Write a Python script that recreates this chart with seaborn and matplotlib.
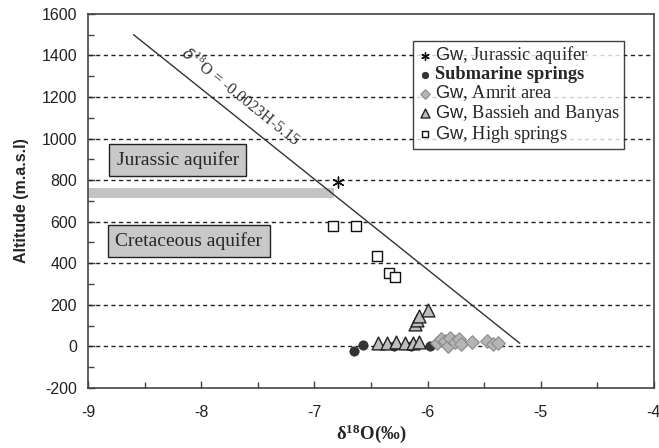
import numpy as np
import pandas as pd
import matplotlib
matplotlib.use("Agg")
import matplotlib.pyplot as plt
import seaborn as sns

# --- data -------------------------------------------------------------
jurassic_d18o = [-6.79]
jurassic_alt = [790]

submarine_d18o = [-6.65, -6.57, -6.30, -6.15, -5.98]
submarine_alt = [-22, 8, 2, 0, 2]

amrit_d18o = [-5.92, -5.88, -5.85, -5.82, -5.80, -5.76, -5.72, -5.70, -5.61, -5.47, -5.42, -5.38]
amrit_alt = [15, 35, 28, 0, 40, 22, 38, 12, 20, 28, 12, 14]

bassieh_d18o = [-6.44, -6.36, -6.28, -6.20, -6.13, -6.08, -6.11, -6.09, -6.08, -6.00]
bassieh_alt = [16, 18, 22, 16, 14, 20, 109, 128, 144, 176]

high_d18o = [-6.84, -6.63, -6.45, -6.34, -6.29]
high_alt = [580, 580, 435, 355, 335]

# local meteoric altitude line: d18O = -0.0023 H - 5.15
line_slope, line_icpt = -0.0023, -5.15
line_alt = np.array([15, 1500])

# Jurassic / Cretaceous contact band
contact_low, contact_high, contact_end = 712, 760, -6.83

x_ticks = [-9, -8, -7, -6, -5, -4]
y_ticks = [-200, 0, 200, 400, 600, 800, 1000, 1200, 1400, 1600]

# --- style ------------------------------------------------------------
sns.set_theme(style="white")
plt.rcParams["font.family"] = ["Liberation Sans", "DejaVu Sans"]
plt.rcParams["mathtext.fontset"] = "custom"
plt.rcParams["mathtext.rm"] = "Liberation Serif"
plt.rcParams["mathtext.bf"] = "Liberation Serif:bold"
plt.rcParams["mathtext.sf"] = "Liberation Sans"

fig = plt.figure(figsize=(6.59, 4.48), dpi=100)
ax = fig.add_axes([0.134, 0.134, 0.858, 0.835])

# horizontal dashed grid
for yv in y_ticks[1:-1]:
    ax.axhline(yv, color="#222222", lw=1.0, ls=(0, (3, 2.5)), zorder=1)

# contact band
ax.fill_between([-9, contact_end], contact_low, contact_high, color="#c4c4c4", lw=0, zorder=2)

# altitude line
line_df = pd.DataFrame({"H": line_alt, "d18O": line_slope * line_alt + line_icpt})
sns.lineplot(data=line_df, x="d18O", y="H", sort=False, color="#333333", lw=1.0, ax=ax, zorder=3)

series = [
    (jurassic_d18o, jurassic_alt, r"$\mathsf{Gw}$, Jurassic aquifer",
     dict(marker=(6, 2, 0), s=60, color="#111111", edgecolor="#111111", linewidth=1.0)),
    (submarine_d18o, submarine_alt, "Submarine springs",
     dict(marker="o", s=45, color="#333333", edgecolor="#222222", linewidth=0.5)),
    (amrit_d18o, amrit_alt, r"$\mathsf{Gw}$, Amrit area",
     dict(marker="D", s=48, color="#b5b5b5", edgecolor="#8a8a8a", linewidth=0.8)),
    (bassieh_d18o, bassieh_alt, r"$\mathsf{Gw}$, Bassieh and Banyas",
     dict(marker="^", s=85, color="#bdbdbd", edgecolor="#222222", linewidth=1.0)),
    (high_d18o, high_alt, r"$\mathsf{Gw}$, High springs",
     dict(marker="s", s=45, color="white", edgecolor="#111111", linewidth=1.0)),
]
for xs, ys, lab, kw in series:
    df = pd.DataFrame({"x": xs, "y": ys})
    sns.scatterplot(data=df, x="x", y="y", label=lab, ax=ax, zorder=4, **kw)

# aquifer boxes
box_kw = dict(boxstyle="square,pad=0.38", fc="#c8c8c8", ec="#222222", lw=1.0)
ax.text(-8.75, 897, "Jurassic aquifer", family="Liberation Serif", fontsize=14,
        va="center", ha="left", bbox=box_kw, zorder=5)
ax.text(-8.76, 507, "Cretaceous aquifer", family="Liberation Serif", fontsize=14,
        va="center", ha="left", bbox=box_kw, zorder=5)

# equation label along the line
ax.text(-8.19, 1405, r"$\delta^{18}$O = -0.0023H-5.15", family="Liberation Serif",
        fontsize=11.5, color="#333333", rotation=-38.6, rotation_mode="anchor",
        ha="left", va="baseline", zorder=5)

# axes
ax.set_xlim(-9, -4)
ax.set_ylim(-200, 1600)
ax.set_xticks(x_ticks)
ax.set_yticks(y_ticks)
ax.set_xticks(np.arange(-8.5, -4, 1.0), minor=True)
ax.set_yticks(np.arange(-100, 1600, 200), minor=True)
ax.tick_params(axis="both", which="both", direction="in", colors="#444444",
               labelcolor="#222222", labelsize=11.5)
ax.tick_params(axis="both", which="major", length=5, width=1.0, pad=8)
ax.tick_params(axis="both", which="minor", length=4, width=1.0)
ax.tick_params(axis="x", pad=12)
ax.tick_params(bottom=True, left=True, which="both")
ax.set_xticklabels([str(t) for t in x_ticks])
ax.set_yticklabels([str(t) for t in y_ticks])
for sp in ax.spines.values():
    sp.set_color("#444444")
    sp.set_linewidth(1.2)

ax.set_xlabel(r"$\mathbf{\delta^{18}O(‰)}$", fontsize=13.5, labelpad=2)
ax.set_ylabel("Altitude (m.a.s.l)", fontsize=11.5, fontweight="bold", labelpad=9)

leg = ax.legend(loc="upper left", bbox_to_anchor=(0.574, 0.928), frameon=True,
                fancybox=False, borderpad=0.2, handletextpad=0.1, handlelength=0.9,
                labelspacing=0.0, borderaxespad=0, markerscale=0.7,
                prop={"family": "Liberation Serif", "size": 13.2})
leg.get_frame().set_edgecolor("#111111")
leg.get_frame().set_linewidth(1.0)
for t in leg.get_texts():
    if t.get_text().startswith("Submarine"):
        t.set_fontweight("bold")

fig.savefig("out.png", dpi=100)
